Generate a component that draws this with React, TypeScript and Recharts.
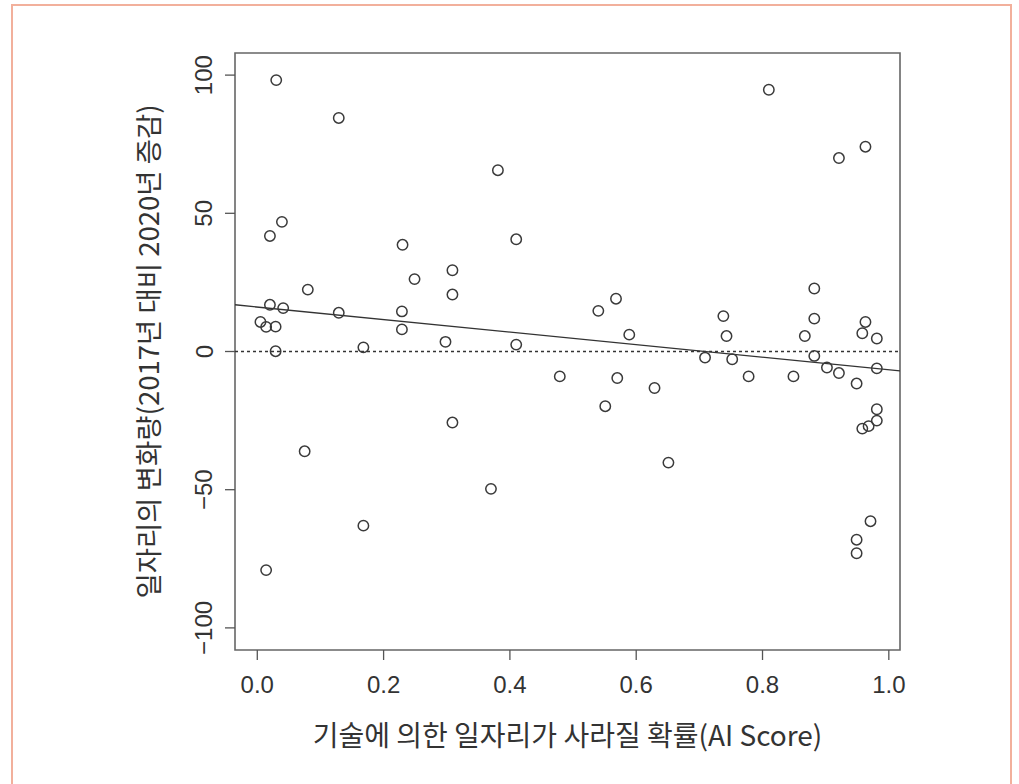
import {
  ScatterChart,
  Scatter,
  XAxis,
  YAxis,
  ReferenceLine,
  ReferenceArea,
} from 'recharts'

// AI Score (x) and change in jobs 2017 -> 2020 (y), one pair per occupation
const aiScore = [
  0.03, 0.129, 0.381, 0.039, 0.02, 0.23, 0.41, 0.309, 0.249, 0.309, 0.08, 0.02, 0.041,
  0.129, 0.229, 0.005, 0.014, 0.029, 0.229, 0.298, 0.41, 0.168, 0.029, 0.81, 0.963,
  0.921, 0.882, 0.568, 0.54, 0.738, 0.882, 0.963, 0.958, 0.981, 0.589, 0.743, 0.867,
  0.479, 0.309, 0.075, 0.37, 0.168, 0.014, 0.709, 0.752, 0.882, 0.902, 0.921, 0.981,
  0.57, 0.778, 0.849, 0.629, 0.949, 0.551, 0.981, 0.981, 0.968, 0.958, 0.651, 0.971,
  0.949, 0.949,
]
const jobChange = [
  98.2, 84.5, 65.6, 46.9, 41.8, 38.6, 40.6, 29.4, 26.2, 20.6, 22.4, 16.9, 15.7, 14.0,
  14.5, 10.7, 8.9, 9.0, 8.0, 3.5, 2.5, 1.5, 0.1, 94.7, 74.1, 70.0, 22.8, 19.1, 14.7,
  12.8, 11.9, 10.7, 6.6, 4.7, 6.1, 5.6, 5.6, -9.0, -25.7, -36.1, -49.7, -63.0, -79.1,
  -2.2, -2.8, -1.6, -5.8, -7.8, -6.1, -9.6, -9.0, -9.0, -13.2, -11.6, -19.8, -20.9,
  -25.0, -27.0, -27.9, -40.2, -61.4, -68.1, -73.0,
]
const xTicks = [0, 0.2, 0.4, 0.6, 0.8, 1.0]
const yTicks = [-100, -50, 0, 50, 100]

// fitted line
const intercept = 16.1
const slope = -22.7

const xDomain: [number, number] = [-0.0353, 1.0177]
const yDomain: [number, number] = [-108, 108]

const points = aiScore.map((x, i) => ({ x, y: jobChange[i] }))

const numFont = '"Liberation Sans", Arial, sans-serif'
const korFont = '"Noto Sans CJK KR", "Liberation Sans", sans-serif'
const ink = '#333'

const fmt = (v: number) => (v < 0 ? '\u2212' + Math.abs(v) : String(v))

function YTick({ x, y, payload }: any) {
  const cx = x - 19
  return (
    <text
      x={cx}
      y={y}
      transform={`rotate(-90, ${cx}, ${y})`}
      textAnchor="middle"
      dominantBaseline="central"
      fill={ink}
      fontSize={24}
      fontFamily={numFont}
    >
      {fmt(payload.value)}
    </text>
  )
}

function Ring(props: any) {
  return <circle cx={props.cx} cy={props.cy} r={5.2} fill="none" stroke="#3a3a3a" strokeWidth={1.5} />
}

export default function App() {
  return (
    <div
      style={{
        position: 'absolute',
        left: 0,
        top: 0,
        width: 1019,
        height: 784,
        overflow: 'hidden',
        background: '#fff',
      }}
    >
      <div
        style={{
          position: 'absolute',
          left: 11,
          top: 4,
          width: 1001,
          height: 820,
          border: '2px solid #f2b09c',
          boxSizing: 'border-box',
        }}
      />
      <ScatterChart
        width={1019}
        height={784}
        margin={{ top: 53, right: 119, bottom: 104, left: 175 }}
        style={{ position: 'absolute', left: 0, top: 0 }}
      >
        <XAxis
          type="number"
          dataKey="x"
          domain={xDomain}
          ticks={xTicks}
          tickFormatter={(v: number) => v.toFixed(1)}
          axisLine={false}
          tickSize={10}
          tickMargin={16}
          height={30}
          tickLine={{ stroke: '#555', strokeWidth: 1.3 }}
          tick={{ fill: ink, fontSize: 24, fontFamily: numFont }}
          allowDataOverflow
          label={{
            value: '기술에 의한 일자리가 사라질 확률(AI Score)',
            position: 'bottom',
            offset: 46,
            fill: ink,
            fontSize: 28,
            fontFamily: korFont,
          }}
        />
        <YAxis
          type="number"
          dataKey="y"
          domain={yDomain}
          ticks={yTicks}
          axisLine={false}
          tickSize={10}
          width={60}
          tickLine={{ stroke: '#555', strokeWidth: 1.3 }}
          tick={<YTick />}
          allowDataOverflow
          label={{
            value: '일자리의 변화량(2017년 대비 2020년 증감)',
            angle: -90,
            position: 'left',
            offset: 26,
            fill: ink,
            fontSize: 27.5,
            fontFamily: korFont,
            style: { textAnchor: 'middle' },
          }}
        />
        <ReferenceArea
          x1={xDomain[0]}
          x2={xDomain[1]}
          y1={yDomain[0]}
          y2={yDomain[1]}
          fill="none"
          fillOpacity={0}
          stroke="#666"
          strokeWidth={1.6}
          ifOverflow="visible"
        />
        <ReferenceLine y={0} stroke="#333" strokeWidth={1.3} strokeDasharray="3 3" />
        <ReferenceLine
          segment={[
            { x: xDomain[0], y: intercept + slope * xDomain[0] },
            { x: xDomain[1], y: intercept + slope * xDomain[1] },
          ]}
          stroke="#333"
          strokeWidth={1.4}
          ifOverflow="visible"
        />
        <Scatter data={points} shape={<Ring />} isAnimationActive={false} />
      </ScatterChart>
    </div>
  )
}
